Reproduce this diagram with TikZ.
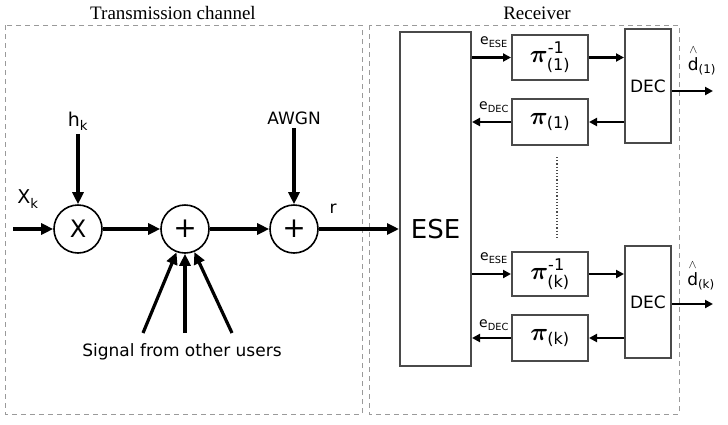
\documentclass[tikz,border=0pt]{standalone}
\usepackage{amsmath}
\usepackage{fontspec}
\setmainfont{DejaVu Sans}
\newfontfamily\titlefont{Liberation Serif}
\usepackage{tikz}
\usetikzlibrary{arrows.meta,positioning}
\definecolor{frame}{HTML}{9a9a9a}
\definecolor{edge}{HTML}{4a4a4a}

\begin{document}
\begin{tikzpicture}[x=1pt,y=-1pt,
  op/.style={draw,circle,line width=1.6pt,minimum size=48pt,inner sep=0pt},
  blk/.style={draw=edge,line width=2pt,inner sep=0pt,fill=white},
  perm/.style={blk,minimum width=76pt,font=\fontsize{23}{23}\selectfont\boldmath},
  flow/.style={-{Triangle[length=12pt,width=11pt]},line width=3.2pt},
  link/.style={-{Triangle[length=8pt,width=8pt]},line width=2.2pt},
  lbl/.style={font=\fontsize{17}{17}\selectfont},
  small/.style={font=\fontsize{14}{14}\selectfont},
  zone/.style={draw=frame,line width=1pt,dash pattern=on 5pt off 4pt}]
\useasboundingbox (0,0) rectangle (728,424);

% the two dashed frames
\draw[zone] (5,25) rectangle (362,414);
\draw[zone] (369,25) rectangle (679,414);
\node[font=\titlefont\fontsize{19}{19}\selectfont] (chan) at (173,13) {Transmission channel};
\node[font=\titlefont\fontsize{19}{19}\selectfont] (recv) at (537,13) {Receiver};

% channel
\coordinate (xin) at (13,229);
\node[op,font=\fontsize{24}{24}\selectfont] (mul) at (78,229) {X};
\node[op,font=\fontsize{28}{28}\selectfont] (sum1) at (185,229) {+};
\node[op,font=\fontsize{28}{28}\selectfont] (sum2) at (294,229) {+};
\node[lbl,font=\fontsize{19}{19}\selectfont] (xk) at (28,199) {$\text{X}_{\text{k}}$};
\node[lbl,font=\fontsize{19}{19}\selectfont] (hk) at (78,121) {$\text{h}_{\text{k}}$};
\node[lbl] (awgn) at (294,118) {AWGN};
\node[lbl] (r) at (333,209) {r};
\node[lbl] (others) at (182,352) {Signal from other users};
\coordinate (o1) at (143,333);
\coordinate (o2) at (185,333);
\coordinate (o3) at (232,333);

\draw[flow] (xin) -- (mul.west);
\draw[flow] (hk.south) -- (mul.north);
\draw[flow] (mul.east) -- (sum1.west);
\draw[flow] (sum1.east) -- (sum2.west);
\draw[flow] (awgn.south) -- (sum2.north);
\draw[flow] (o1) -- (sum1.-110);
\draw[flow] (o2) -- (sum1.south);
\draw[flow] (o3) -- (sum1.-68);

% receiver
\node[blk,minimum width=71pt,minimum height=334pt] (ese) at (435.5,199) {};
\node[font=\fontsize{26}{26}\selectfont] (eselbl) at (435.5,229) {ESE};
\draw[flow] (sum2.east) -- (sum2.east -| ese.west);

\node[perm,minimum height=45pt] (pinv1) at (550,57.5) {$\pi^{\text{-1}}_{\text{(1)}}$};
\node[perm,minimum height=46pt] (pi1) at (550,122) {$\pi_{\text{(1)}}$};
\node[perm,minimum height=44pt] (pinvk) at (550,274) {$\pi^{\text{-1}}_{\text{(k)}}$};
\node[perm,minimum height=46pt] (pik) at (550,338) {$\pi_{\text{(k)}}$};
\node[blk,minimum width=46pt,minimum height=114pt,font=\fontsize{17}{17}\selectfont] (dec1) at (648,86) {DEC};
\node[blk,minimum width=46pt,minimum height=112pt,font=\fontsize{17}{17}\selectfont] (deck) at (648,302) {DEC};

\draw[link] (ese.east |- pinv1.west) -- (pinv1.west);
\draw[link] (pinv1.east) -- (pinv1.east -| dec1.west);
\draw[link] (pi1.east -| dec1.west) -- (pi1.east);
\draw[link] (pi1.west) -- (pi1.west -| ese.east);
\draw[link] (ese.east |- pinvk.west) -- (pinvk.west);
\draw[link] (pinvk.east) -- (pinvk.east -| deck.west);
\draw[link] (pik.east -| deck.west) -- (pik.east);
\draw[link] (pik.west) -- (pik.west -| ese.east);

\node[small] (eese1) at (494,42) {$\text{e}_{\text{ESE}}$};
\node[small] (edec1) at (494,107) {$\text{e}_{\text{DEC}}$};
\node[small] (eesek) at (494,258) {$\text{e}_{\text{ESE}}$};
\node[small] (edeck) at (494,325) {$\text{e}_{\text{DEC}}$};

\coordinate (dtop) at (557,157);
\coordinate (dbot) at (557,238);
\draw[edge,line width=1.2pt,dotted] (dtop) -- (dbot);

\coordinate (out1) at (713,91);
\coordinate (outk) at (713,304);
\draw[link] (out1 -| dec1.east) -- (out1);
\draw[link] (outk -| deck.east) -- (outk);
\node[lbl] (d1) at (702,60) {$\overset{\wedge}{\text{d}}_{\text{(1)}}$};
\node[lbl] (dk) at (701,275) {$\overset{\wedge}{\text{d}}_{\text{(k)}}$};
\end{tikzpicture}
\end{document}
